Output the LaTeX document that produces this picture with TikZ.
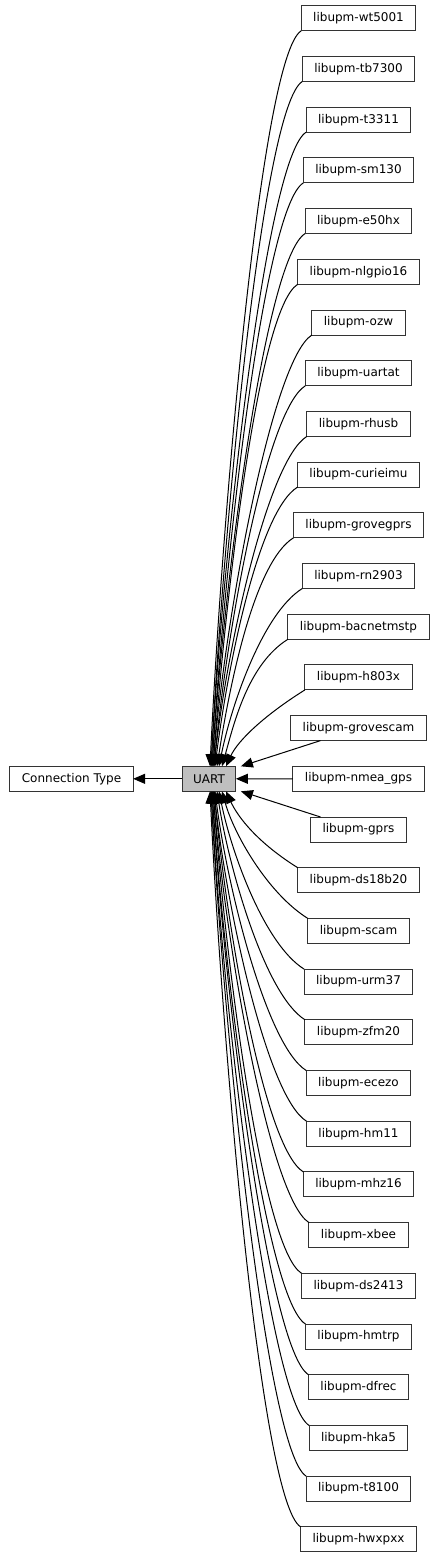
\documentclass[tikz,border=0pt]{standalone}
\usepackage{fontspec}
\setmainfont{DejaVu Sans}
\usetikzlibrary{arrows.meta, positioning}

\begin{document}
\begin{tikzpicture}[
    >={Triangle[length=12pt,width=10pt]},
    node distance=25.7pt,
    lib/.style={draw=black!80, line width=1pt, minimum height=25pt, inner xsep=12pt, outer sep=0pt, font=\fontsize{12}{14}\selectfont},
    dep/.style={->, line width=1pt},
    upcurve/.style={to path={.. controls +(-40pt,-25pt) and +(12pt,#1) .. (\tikztotarget)}},
    downcurve/.style={to path={.. controls +(-40pt,25pt) and +(12pt,-#1) .. (\tikztotarget)}}
]
\useasboundingbox (0,0) rectangle (437pt,-1557pt);

% Nodes ------------------------------------------------------

\node[lib, fill=black!25, inner xsep=11pt] (uart) at (209pt,-778.8pt) {UART};
\node[lib, left=49pt of uart] (ctype) {Connection Type};

\node[lib] (wt5001) at (358.5pt,-18.3pt) {libupm-wt5001};
\node[lib, below=of wt5001] (tb7300) {libupm-tb7300};
\node[lib, below=of tb7300] (t3311) {libupm-t3311};
\node[lib, below=of t3311] (sm130) {libupm-sm130};
\node[lib, below=of sm130] (e50hx) {libupm-e50hx};
\node[lib, below=of e50hx] (nlgpio16) {libupm-nlgpio16};
\node[lib, below=of nlgpio16] (ozw) {libupm-ozw};
\node[lib, below=of ozw] (uartat) {libupm-uartat};
\node[lib, below=of uartat] (rhusb) {libupm-rhusb};
\node[lib, below=of rhusb] (curieimu) {libupm-curieimu};
\node[lib, below=of curieimu] (grovegprs) {libupm-grovegprs};
\node[lib, below=of grovegprs] (rn2903) {libupm-rn2903};
\node[lib, below=of rn2903] (bacnetmstp) {libupm-bacnetmstp};
\node[lib, below=of bacnetmstp] (h803x) {libupm-h803x};
\node[lib, below=of h803x] (grovescam) {libupm-grovescam};
\node[lib, below=of grovescam] (nmeagps) {libupm-nmea\_gps};
\node[lib, below=of nmeagps] (gprs) {libupm-gprs};
\node[lib, below=of gprs] (ds18b20) {libupm-ds18b20};
\node[lib, below=of ds18b20] (scam) {libupm-scam};
\node[lib, below=of scam] (urm37) {libupm-urm37};
\node[lib, below=of urm37] (zfm20) {libupm-zfm20};
\node[lib, below=of zfm20] (ecezo) {libupm-ecezo};
\node[lib, below=of ecezo] (hm11) {libupm-hm11};
\node[lib, below=of hm11] (mhz16) {libupm-mhz16};
\node[lib, below=of mhz16] (xbee) {libupm-xbee};
\node[lib, below=of xbee] (ds2413) {libupm-ds2413};
\node[lib, below=of ds2413] (hmtrp) {libupm-hmtrp};
\node[lib, below=of hmtrp] (dfrec) {libupm-dfrec};
\node[lib, below=of dfrec] (hka5) {libupm-hka5};
\node[lib, below=of hka5] (t8100) {libupm-t8100};
\node[lib, below=of t8100] (hwxpxx) {libupm-hwxpxx};

% Arrows ---------------------------------------------------

\draw[dep] (uart) -- (ctype);

\draw[dep] (wt5001.south west) to[upcurve=250pt] ([xshift=1pt]uart.north);
\draw[dep] (tb7300.south west) to[upcurve=232pt] ([xshift=2pt]uart.north);
\draw[dep] (t3311.south west) to[upcurve=215pt] ([xshift=2pt]uart.north);
\draw[dep] (sm130.south west) to[upcurve=198pt] ([xshift=3pt]uart.north);
\draw[dep] (e50hx.south west) to[upcurve=181pt] ([xshift=3pt]uart.north);
\draw[dep] (nlgpio16.south west) to[upcurve=163pt] ([xshift=4pt]uart.north);
\draw[dep] (ozw.south west) to[upcurve=146pt] ([xshift=4pt]uart.north);
\draw[dep] (uartat.south west) to[upcurve=129pt] ([xshift=5pt]uart.north);
\draw[dep] (rhusb.south west) to[upcurve=112pt] ([xshift=5pt]uart.north);
\draw[dep] (curieimu.south west) to[upcurve=94pt] ([xshift=6pt]uart.north);
\draw[dep] (grovegprs.south west) to[upcurve=77pt] ([xshift=8pt]uart.north);
\draw[dep] (rn2903.south west) to[upcurve=60pt] ([xshift=10pt]uart.north);
\draw[dep] (bacnetmstp.south west) to[upcurve=43pt] ([xshift=13pt]uart.north);
\draw[dep] (h803x.south west) to[upcurve=26pt] ([xshift=17pt]uart.north);
\draw[dep] ([xshift=-38pt]grovescam.south) -- ([xshift=5pt]uart.north east);
\draw[dep] (nmeagps) -- (uart);
\draw[dep] ([xshift=10pt]gprs.north west) -- ([xshift=5pt]uart.south east);
\draw[dep] (ds18b20.north west) to[downcurve=26pt] ([xshift=17pt]uart.south);
\draw[dep] (scam.north west) to[downcurve=43pt] ([xshift=13pt]uart.south);
\draw[dep] (urm37.north west) to[downcurve=60pt] ([xshift=10pt]uart.south);
\draw[dep] (zfm20.north west) to[downcurve=77pt] ([xshift=8pt]uart.south);
\draw[dep] (ecezo.north west) to[downcurve=94pt] ([xshift=6pt]uart.south);
\draw[dep] (hm11.north west) to[downcurve=112pt] ([xshift=5pt]uart.south);
\draw[dep] (mhz16.north west) to[downcurve=129pt] ([xshift=5pt]uart.south);
\draw[dep] (xbee.north west) to[downcurve=146pt] ([xshift=4pt]uart.south);
\draw[dep] (ds2413.north west) to[downcurve=163pt] ([xshift=4pt]uart.south);
\draw[dep] (hmtrp.north west) to[downcurve=181pt] ([xshift=3pt]uart.south);
\draw[dep] (dfrec.north west) to[downcurve=198pt] ([xshift=3pt]uart.south);
\draw[dep] (hka5.north west) to[downcurve=215pt] ([xshift=2pt]uart.south);
\draw[dep] (t8100.north west) to[downcurve=232pt] ([xshift=2pt]uart.south);
\draw[dep] (hwxpxx.north west) to[downcurve=250pt] ([xshift=1pt]uart.south);

\end{tikzpicture}
\end{document}
